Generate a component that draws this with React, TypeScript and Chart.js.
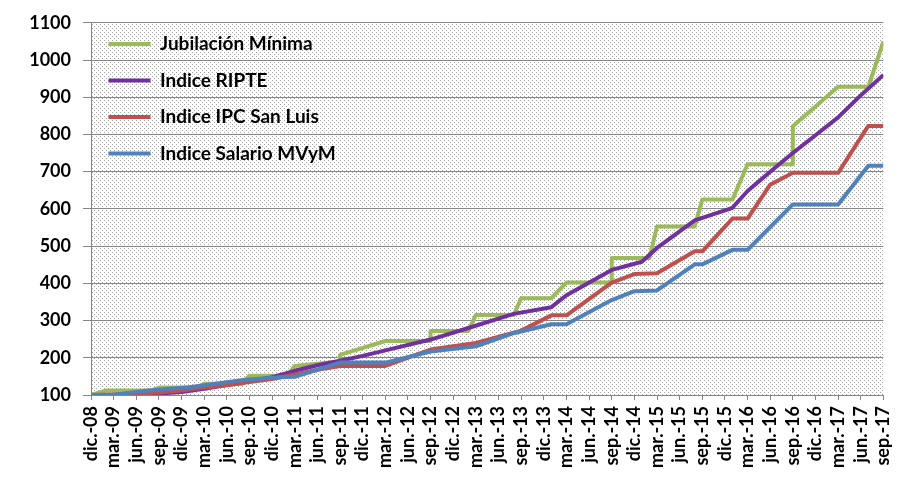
import React, { useEffect, useRef } from 'react';
import { Chart, registerables } from 'chart.js';

Chart.register(...registerables);

// Quarter tick labels (every 3 months, starting dic.-08 = month 0)
const quarterLabels = [
  'dic.-08', 'mar.-09', 'jun.-09', 'sep.-09', 'dic.-09', 'mar.-10', 'jun.-10', 'sep.-10',
  'dic.-10', 'mar.-11', 'jun.-11', 'sep.-11', 'dic.-11', 'mar.-12', 'jun.-12', 'sep.-12',
  'dic.-12', 'mar.-13', 'jun.-13', 'sep.-13', 'dic.-13', 'mar.-14', 'jun.-14', 'sep.-14',
  'dic.-14', 'mar.-15', 'jun.-15', 'sep.-15', 'dic.-15', 'mar.-16', 'jun.-16', 'sep.-16',
  'dic.-16', 'mar.-17', 'jun.-17', 'sep.-17',
];

// Series: month index (months since dic.-08) and index value
const jubilacionMonths = [0, 2, 8, 9, 14, 15, 20, 21, 26, 27, 33, 33, 39, 45, 45, 50, 51, 56, 57, 61, 63, 69, 69, 74, 75, 80, 81, 85, 87, 93, 93, 99, 103, 105];
const jubilacionValues = [100, 112, 112, 120, 120, 130, 130, 152, 152, 178, 190, 208, 245, 245, 272, 272, 315, 315, 360, 360, 402, 402, 468, 468, 553, 553, 625, 625, 720, 720, 822, 928, 928, 1050];

const ripteMonths = [0, 3, 6, 9, 12, 15, 18, 21, 24, 27, 30, 33, 36, 39, 45, 50, 56, 61, 63, 69, 73, 75, 80, 85, 87, 90, 93, 96, 99, 102, 105];
const ripteValues = [100, 101, 102, 104, 108, 117, 127, 137, 148, 165, 180, 192, 205, 220, 249, 280, 318, 336, 368, 436, 458, 495, 569, 603, 648, 700, 750, 798, 846, 905, 960];

const ipcMonths = [0, 3, 6, 9, 12, 15, 18, 21, 24, 27, 30, 33, 39, 45, 51, 57, 61, 63, 69, 72, 75, 80, 81, 85, 87, 90, 93, 99, 103, 105];
const ipcValues = [100, 101, 103, 107, 112, 120, 126, 135, 143, 155, 168, 178, 178, 222, 240, 273, 314, 314, 402, 425, 427, 486, 486, 574, 574, 665, 697, 697, 823, 823];

const salarioMonths = [0, 3, 8, 10, 13, 20, 25, 27, 33, 39, 45, 51, 56, 61, 63, 69, 72, 75, 80, 81, 85, 87, 93, 99, 103, 105];
const salarioValues = [100, 101, 113, 116, 121, 140, 148, 149, 187, 187, 217, 231, 266, 290, 290, 355, 379, 381, 451, 451, 490, 490, 612, 612, 716, 716];

const seriesNames = ['Jubilación Mínima', 'Indice RIPTE', 'Indice IPC San Luis', 'Indice Salario MVyM'];
const seriesColors = ['#9BBB59', '#7030A0', '#C0504D', '#4F81BD'];

const toPoints = (months: number[], values: number[]) =>
  months.map((m, i) => ({ x: m, y: values[i] }));

const plotPattern = {
  id: 'plotPattern',
  beforeDraw(chart: any) {
    const { ctx, chartArea } = chart;
    if (!chartArea) return;
    const tile = document.createElement('canvas');
    tile.width = 4;
    tile.height = 4;
    const t = tile.getContext('2d')!;
    t.fillStyle = '#a2a2a2';
    t.fillRect(0, 0, 1, 1);
    t.fillRect(2, 2, 1, 1);
    const pat = ctx.createPattern(tile, 'repeat');
    ctx.save();
    ctx.fillStyle = '#ffffff';
    ctx.fillRect(0, 0, chart.width, chart.height);
    ctx.fillStyle = pat;
    ctx.fillRect(chartArea.left, chartArea.top, chartArea.right - chartArea.left, chartArea.bottom - chartArea.top);
    ctx.restore();
  },
};

export default function App() {
  const canvasRef = useRef<HTMLCanvasElement | null>(null);

  useEffect(() => {
    if (!canvasRef.current) return;
    const allSeries = [
      toPoints(jubilacionMonths, jubilacionValues),
      toPoints(ripteMonths, ripteValues),
      toPoints(ipcMonths, ipcValues),
      toPoints(salarioMonths, salarioValues),
    ];
    // Reverse so that the last series is drawn on top (as in the original)
    const datasets = allSeries
      .map((data, i) => ({
        label: seriesNames[i],
        data,
        borderColor: seriesColors[i],
        backgroundColor: seriesColors[i],
        borderWidth: 4,
        pointRadius: 0,
        tension: 0,
        borderJoinStyle: 'round' as const,
        borderCapStyle: 'butt' as const,
        fill: false,
      }))
      .reverse();

    const tickFont = { family: 'Lato', size: 18, weight: 'bold' as const };

    const chart = new Chart(canvasRef.current, {
      type: 'line',
      data: { datasets },
      plugins: [plotPattern],
      options: {
        animation: false,
        responsive: false,
        events: [],
        layout: { padding: { left: 0, right: 8, top: 15, bottom: 0 } },
        scales: {
          x: {
            type: 'linear',
            min: 0,
            max: 105,
            afterFit: (s: any) => { s.height = 91; },
            grid: { display: true, drawOnChartArea: false, drawTicks: true, tickLength: 5, color: '#868686' },
            border: { display: true, color: '#868686', width: 1 },
            ticks: {
              stepSize: 3,
              autoSkip: false,
              minRotation: 90,
              maxRotation: 90,
              padding: 6,
              color: '#000',
              font: tickFont,
              callback: (v: any) => quarterLabels[Math.round(Number(v) / 3)] ?? '',
            },
          },
          y: {
            type: 'linear',
            min: 100,
            max: 1100,
            afterFit: (s: any) => { s.width = 91; },
            grid: { display: true, drawTicks: true, tickLength: 8, color: '#868686' },
            border: { display: true, color: '#868686', width: 1 },
            ticks: {
              stepSize: 100,
              padding: 12,
              color: '#000',
              font: tickFont,
              callback: (v: any) => String(v),
            },
          },
        },
        plugins: {
          tooltip: { enabled: false },
          legend: {
            position: 'chartArea' as any,
            align: 'start',
            reverse: true,
            title: {
              display: true,
              text: '',
              font: { size: 1, lineHeight: 1 },
              padding: { top: 8, bottom: 8 },
            },
            labels: {
              boxWidth: 42,
              boxHeight: 4,
              padding: 17.5,
              color: '#000',
              font: { family: 'Lato', size: 19, weight: 'bold' },
              generateLabels: (c: any) =>
                (Chart.defaults.plugins.legend.labels.generateLabels as any)(c).map((l: any) => ({
                  ...l,
                  fillStyle: l.strokeStyle,
                  lineWidth: 0,
                })),
            },
          },
        },
      },
    });
    return () => chart.destroy();
  }, []);

  return (
    <div style={{ position: 'fixed', left: 0, top: 0, width: 911, height: 486, background: '#fff' }}>
      <canvas ref={canvasRef} width={911} height={486} style={{ display: 'block' }} />
    </div>
  );
}
